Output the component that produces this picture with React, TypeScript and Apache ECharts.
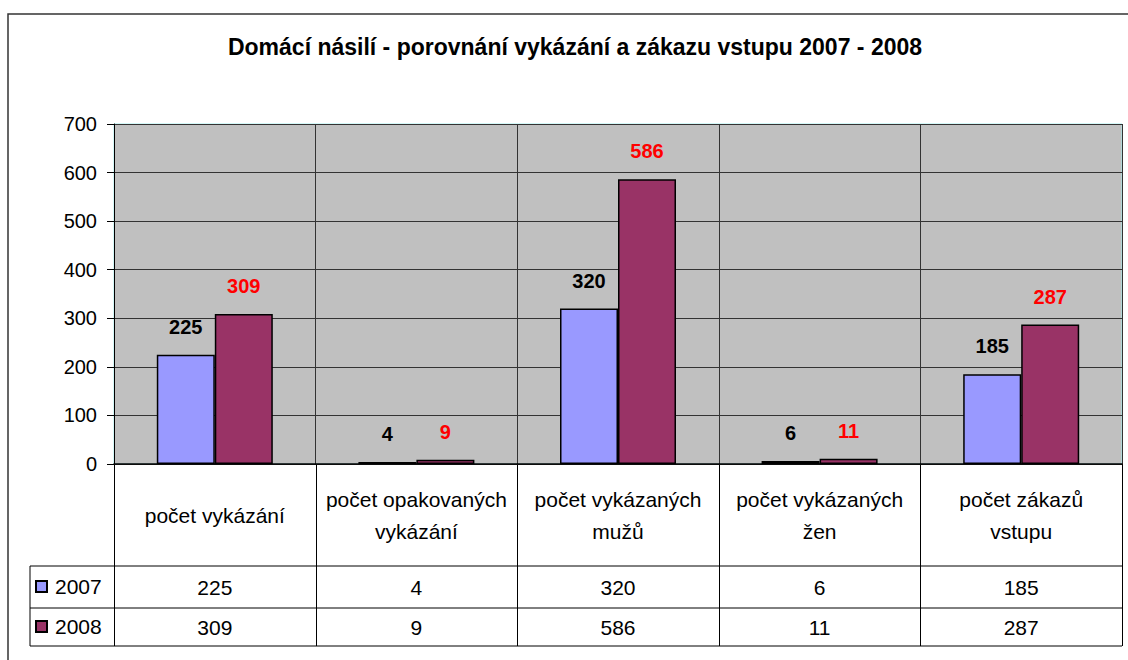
import React, { useEffect, useRef } from "react";
import * as echarts from "echarts";

const categories = [
  "počet vykázání",
  "počet opakovaných\nvykázání",
  "počet vykázaných\nmužů",
  "počet vykázaných\nžen",
  "počet zákazů\nvstupu",
];
const seriesNames = ["2007", "2008"];
const values2007 = [225, 4, 320, 6, 185];
const values2008 = [309, 9, 586, 11, 287];
const titleText = "Domácí násilí - porovnání vykázání a zákazu vstupu 2007 - 2008";

const FONT = "'Liberation Sans', Arial, sans-serif";

export default function App() {
  const ref = useRef<HTMLDivElement>(null);
  useEffect(() => {
    if (!ref.current) return;
    const chart = echarts.init(ref.current, undefined, { renderer: "svg" });
    const gridLeft = 114;
    const gridTop = 124;
    const gridW = 1008;
    const gridBottomY = 464;
    const catW = gridW / categories.length;
    const tableBottom = 646;
    const lineStyle = { stroke: "#000", lineWidth: 1 };
    const graphics: any[] = [
      {
        type: "rect",
        shape: { x: 8, y: 14, width: 1140, height: 680 },
        style: { fill: "none", stroke: "#333", lineWidth: 1.5 },
        silent: true,
      },
      {
        type: "text",
        x: 575,
        y: 47,
        style: {
          text: titleText,
          font: `bold 23px ${FONT}`,
          fill: "#000",
          textAlign: "center",
          textVerticalAlign: "middle",
        },
      },
    ];
    [566, 608, tableBottom].forEach((y) =>
      graphics.push({ type: "line", shape: { x1: 30, y1: y, x2: gridLeft + gridW, y2: y }, style: lineStyle, silent: true })
    );
    graphics.push({ type: "line", shape: { x1: 30, y1: 566, x2: 30, y2: tableBottom }, style: lineStyle, silent: true });
    for (let i = 0; i <= categories.length; i++) {
      const x = Math.round(gridLeft + i * catW) + 0.5;
      graphics.push({ type: "line", shape: { x1: x, y1: gridBottomY, x2: x, y2: tableBottom }, style: lineStyle, silent: true });
    }

    const tableText = { fontSize: 21, color: "#000", fontFamily: FONT };
    const legendBase = {
      orient: "vertical",
      left: 35,
      itemWidth: 11,
      itemHeight: 11,
      padding: 0,
      icon: "rect",
      textStyle: { ...tableText, padding: [0, 0, 0, 3] },
    };
    chart.setOption({
      animation: false,
      backgroundColor: "#fff",
      grid: {
        left: gridLeft,
        top: gridTop,
        width: gridW,
        height: gridBottomY - gridTop,
        show: true,
        backgroundColor: "#C0C0C0",
        borderColor: "#a8f0f0",
        borderWidth: 1,
      },
      legend: [
        { ...legendBase, data: [seriesNames[0]], top: 576 },
        { ...legendBase, data: [seriesNames[1]], top: 616 },
      ],
      xAxis: [
        {
          type: "category",
          data: categories,
          position: "bottom",
          axisLine: { show: true, lineStyle: { color: "#000", width: 1.5 } },
          axisTick: { show: false },
          splitLine: { show: true, lineStyle: { color: "#333", width: 1 } },
          axisLabel: { ...tableText, margin: 51, verticalAlign: "middle", lineHeight: 32, interval: 0 },
        },
        {
          type: "category",
          data: values2007.map(String),
          position: "bottom",
          axisLine: { show: false },
          axisTick: { show: false },
          splitLine: { show: false },
          axisLabel: { ...tableText, margin: 123, verticalAlign: "middle", interval: 0 },
        },
        {
          type: "category",
          data: values2008.map(String),
          position: "bottom",
          axisLine: { show: false },
          axisTick: { show: false },
          splitLine: { show: false },
          axisLabel: { ...tableText, margin: 163, verticalAlign: "middle", interval: 0 },
        },
      ],
      yAxis: {
        type: "value",
        min: 0,
        max: 700,
        interval: 100,
        axisLine: { show: true, lineStyle: { color: "#000", width: 1 } },
        axisTick: { show: true, length: 7, lineStyle: { color: "#000" } },
        splitLine: { show: true, lineStyle: { color: "#333", width: 1 } },
        axisLabel: { fontSize: 20, color: "#000", fontFamily: FONT, margin: 17 },
      },
      series: [
        {
          name: seriesNames[0],
          type: "bar",
          data: values2007,
          barWidth: 58,
          barGap: "0%",
          itemStyle: { color: "#9999FF", borderColor: "#000", borderWidth: 1.5 },
          label: {
            show: true,
            position: "top",
            distance: 18,
            fontSize: 20,
            fontWeight: "bold",
            color: "#000",
            fontFamily: FONT,
          },
        },
        {
          name: seriesNames[1],
          type: "bar",
          data: values2008,
          barWidth: 58,
          barGap: "0%",
          itemStyle: { color: "#993366", borderColor: "#000", borderWidth: 1.5 },
          label: {
            show: true,
            position: "top",
            distance: 18,
            fontSize: 20,
            fontWeight: "bold",
            color: "#FF0000",
            fontFamily: FONT,
          },
        },
      ],
      graphic: graphics,
    });
    return () => chart.dispose();
  }, []);
  return <div ref={ref} style={{ position: "absolute", left: 0, top: 0, width: 1128, height: 660 }} />;
}
